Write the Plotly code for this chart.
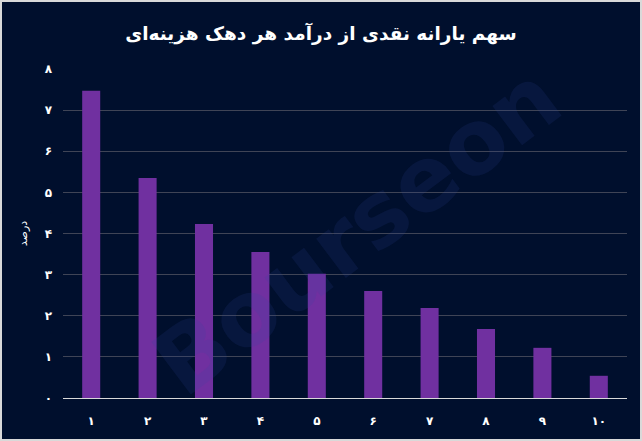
import plotly.graph_objects as go

# Cash subsidy share of income per expenditure decile (percent)
deciles = ['۱', '۲', '۳', '۴', '۵', '۶', '۷', '۸', '۹', '۱۰']
share = [7.47, 5.35, 4.23, 3.55, 3.02, 2.60, 2.19, 1.68, 1.22, 0.54]
y_ticks = [0, 1, 2, 3, 4, 5, 6, 7, 8]
y_tick_labels = ['۰', '۱', '۲', '۳', '۴', '۵', '۶', '۷', '۸']

title_text = 'سهم یارانه نقدی از درآمد هر دهک هزینه‌ای'
y_title = 'درصد'

BG = '#000f2d'
BAR = '#7030a0'
FONT = 'DejaVu Sans, Noto Sans, sans-serif'

W, H = 642, 441
L, R, T, B = 63, 15, 69, 43
pw, ph = W - L - R, H - T - B

fig = go.Figure()

fig.add_trace(go.Bar(
    x=deciles,
    y=share,
    marker_color=BAR,
    marker_line_width=0,
    hovertemplate="دهک %{x}<br>%{y:.2f}%<extra></extra>"
))

# watermark
fig.add_annotation(
    text='Bourseon',
    xref='paper', yref='paper',
    x=0.52, y=0.51,
    showarrow=False,
    textangle=-37,
    font=dict(family='DejaVu Sans, sans-serif', size=90, weight='bold',
              color='rgba(45,75,160,0.15)'),
)

# thin light frame round the picture
fig.add_shape(
    type='rect', xref='paper', yref='paper',
    x0=-(L - 1) / pw, x1=1 + (R - 1) / pw, y0=-(B - 1) / ph, y1=1 + (T - 1) / ph,
    line=dict(color='#d9d9d9', width=2), layer='above'
)

fig.update_layout(
    width=W, height=H,
    paper_bgcolor=BG,
    plot_bgcolor=BG,
    margin=dict(l=L, r=R, t=T, b=B),
    title=dict(text=title_text, x=0.5, xanchor='center', y=0.925, yanchor='middle',
               font=dict(family=FONT, size=18.5, color='white', weight='bold')),
    bargap=0.68,
    showlegend=False,
    xaxis=dict(
        showgrid=False,
        showline=True, linecolor='#d9d9d9', linewidth=1,
        ticks='', tickfont=dict(family=FONT, size=12, color='white', weight='bold'),
        ticklabelstandoff=12,
    ),
    yaxis=dict(
        range=[0, 8],
        tickvals=y_ticks, ticktext=y_tick_labels,
        showgrid=True, gridcolor='#3f4456', gridwidth=1,
        zeroline=False, showline=False,
        ticks='', tickfont=dict(family=FONT, size=12, color='white', weight='bold'),
        ticklabelstandoff=10,
        title=dict(text=y_title, font=dict(family=FONT, size=11, color='white'), standoff=14),
    ),
)

fig.write_html("out.html", config={'displayModeBar': False},
               post_script="document.body.style.margin='0';")
